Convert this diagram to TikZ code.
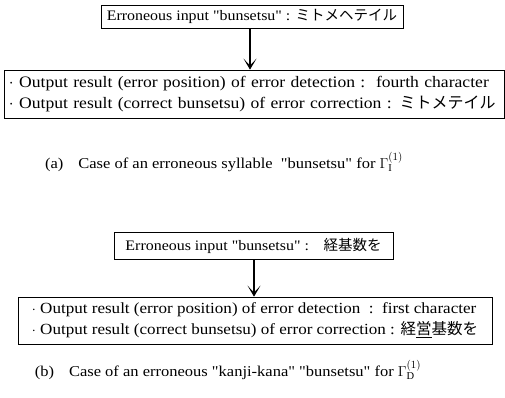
\documentclass[tikz,border=0pt]{standalone}
\usepackage{fontspec}
\setmainfont{Liberation Serif}
\newfontfamily\wide[FakeStretch=1.1]{Liberation Serif}
\newfontfamily\jp{Noto Sans CJK JP}
\usetikzlibrary{arrows.meta}
\newcommand{\dq}{\symbol{34}}
\tikzset{
  inbox/.style={draw, line width=0.8pt, inner sep=0pt, font=\wide\fontsize{14.5}{16}\selectfont},
  outbox/.style={draw, line width=0.8pt, inner xsep=5pt, inner ysep=0pt, align=left, font=\wide\fontsize{16}{21}\selectfont},
  flow/.style={line width=1.8pt, -{Stealth[length=11pt,width=13pt,inset=7pt]}},
  caption/.style={font=\wide\fontsize{15}{16}\selectfont}
}
\begin{document}
\begin{tikzpicture}[x=1pt,y=-1pt]
\useasboundingbox (0,0) rectangle (505,397);
% (a) syllable
\node[inbox, minimum width=302pt, minimum height=23pt] (INa) at (252,16.5) {Erroneous input \dq bunsetsu\dq\ : {\jp ミトメヘテイル}};
\node[outbox, text width=490pt, minimum height=48pt] (OUTa) at (254,94) {$\cdot$ Output result (error position) of error detection :\ \ fourth character\\
$\cdot$ Output result (correct bunsetsu) of error correction : {\jp ミトメテイル}};
\draw[flow] (INa.south -| 250,0) -- (OUTa.north -| 250,0);
\node[caption] (CAPa) at (224,162) {(a)\quad Case of an erroneous syllable\ \ \dq bunsetsu\dq\ for $\Gamma_{\mathrm{I}}^{(1)}$};
% (b) kanji-kana
\node[inbox, minimum width=279pt, minimum height=27pt] (INb) at (253.5,246) {Erroneous input \dq bunsetsu\dq\ :\quad {\jp 経基数を}};
\node[outbox, font=\wide\fontsize{15.5}{21}\selectfont, minimum width=474pt, minimum height=47pt] (OUTb) at (255,320.5) {$\cdot$ Output result (error position) of error detection\ \ :\ \ first character\\
$\cdot$ Output result (correct bunsetsu) of error correction : {\jp 経\underline{営}基数を}};
\draw[flow] (INb.south -| 254,0) -- (OUTb.north -| 254,0);
\node[caption] (CAPb) at (228,370) {(b)\quad Case of an erroneous \dq kanji-kana\dq\ \dq bunsetsu\dq\ for $\Gamma_{\mathrm{D}}^{(1)}$};
\end{tikzpicture}
\end{document}
